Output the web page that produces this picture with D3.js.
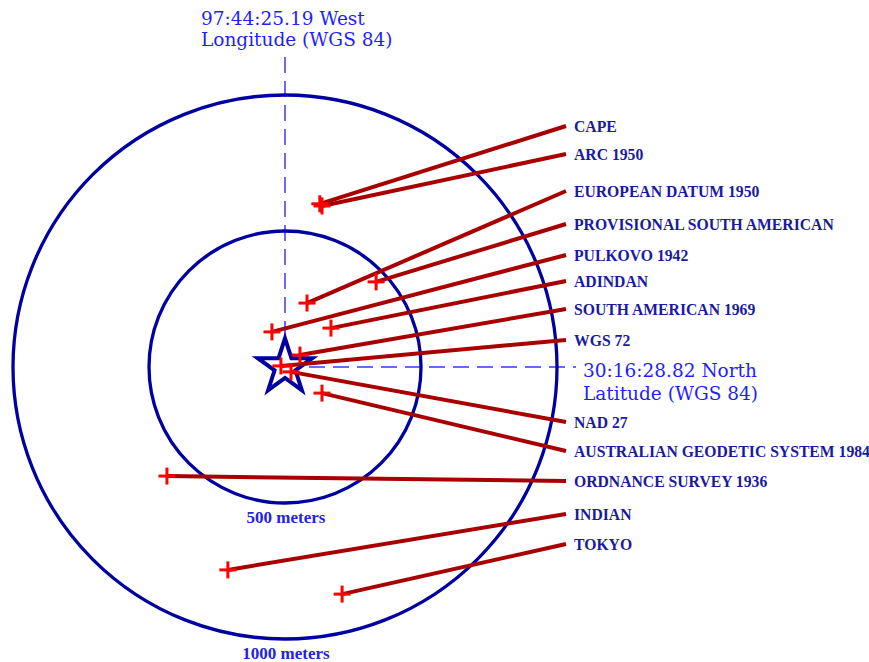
<!DOCTYPE html>
<html>
<head>
<meta charset="utf-8">
<script src="https://cdn.jsdelivr.net/npm/d3@7"></script>
<style>
  body { margin: 0; background: #fff; }
  svg { display: block; }
  .datum { font-family: "Liberation Serif", "Times New Roman", serif; font-weight: bold; font-size: 15.7px; fill: #1a1aa0; }
  .coord { font-family: "DejaVu Serif", serif; font-size: 18.5px; fill: #1e1eff; }
  .ring-label { font-family: "Liberation Serif", serif; font-weight: bold; font-size: 17px; fill: #2424e0; }
</style>
</head>
<body>
<svg id="chart" width="869" height="662"></svg>
<script>
// datum shifts relative to WGS 84, metres east / north
var datums = ["CAPE", "ARC 1950", "EUROPEAN DATUM 1950", "PROVISIONAL SOUTH AMERICAN",
  "PULKOVO 1942", "ADINDAN", "SOUTH AMERICAN 1969", "WGS 72", "NAD 27",
  "AUSTRALIAN GEODETIC SYSTEM 1984", "ORDNANCE SURVEY 1936", "INDIAN", "TOKYO"];
var eastM  = [128, 136, 81, 335, -48, 169, 55, -15, 22, 136, -434, -210, 210];
var northM = [600, 592, 235, 313, 129, 143, 44, 4, -18, -96, -401, -746, -835];

var ringsM = [500, 1000];
var ringLabels = ["500 meters", "1000 meters"];
var lonLabel = ["97:44:25.19 West", "Longitude (WGS 84)"];
var latLabel = ["30:16:28.82 North", "Latitude (WGS 84)"];

// label rows on the right (baselines, px)
var labelY = [132, 160, 197, 230, 261, 287, 315, 346, 428, 457, 487, 520, 550];

var svg = d3.select("#chart");
var cx = 285, cy = 367, R = 272;

var x = d3.scaleLinear().domain([-1000, 1000]).range([cx - R, cx + R]);
var y = d3.scaleLinear().domain([-1000, 1000]).range([cy + R, cy - R]);
var r = d3.scaleLinear().domain([0, 1000]).range([0, R]);

// reference crosshair (dashed)
svg.append("line")
  .attr("x1", x(0)).attr("x2", x(0))
  .attr("y1", 57).attr("y2", y(0))
  .attr("stroke", "#3838ff").attr("stroke-width", 1.5)
  .attr("stroke-dasharray", "16,8");
svg.append("line")
  .attr("x1", x(0)).attr("x2", 576)
  .attr("y1", y(0)).attr("y2", y(0))
  .attr("stroke", "#3838ff").attr("stroke-width", 1.5)
  .attr("stroke-dasharray", "16,8");

// range rings
svg.selectAll("circle.ring")
  .data(ringsM)
  .enter().append("circle")
  .attr("class", "ring")
  .attr("cx", x(0)).attr("cy", y(0))
  .attr("r", function(d) { return r(d); })
  .attr("fill", "none")
  .attr("stroke", "#0000a0")
  .attr("stroke-width", 3.3);

svg.selectAll("text.ring-label")
  .data(ringsM)
  .enter().append("text")
  .attr("class", "ring-label")
  .attr("x", x(0) + 1)
  .attr("y", function(d) { return y(0) + r(d) + 19.5; })
  .attr("text-anchor", "middle")
  .text(function(d, i) { return ringLabels[i]; });

// WGS 84 origin star
svg.append("path")
  .attr("d", d3.symbol(d3.symbolStar).size(925)())
  .attr("transform", "translate(" + x(0) + "," + y(0) + ")")
  .attr("fill", "#fff")
  .attr("stroke", "#0000a0")
  .attr("stroke-width", 4)
  .attr("stroke-linejoin", "miter");

// leader lines
var idx = d3.range(datums.length);

svg.selectAll("line.leader")
  .data(idx)
  .enter().append("line")
  .attr("class", "leader")
  .attr("x1", function(i) { return x(eastM[i]); })
  .attr("y1", function(i) { return y(northM[i]); })
  .attr("x2", 566)
  .attr("y2", function(i) { return labelY[i] - 6; })
  .attr("stroke", "#a80000")
  .attr("stroke-width", 4);

// crosses
var cross = svg.selectAll("g.cross")
  .data(idx)
  .enter().append("g")
  .attr("class", "cross")
  .attr("transform", function(i) { return "translate(" + x(eastM[i]) + "," + y(northM[i]) + ")"; });
cross.append("line").attr("x1", -8.5).attr("x2", 8.5).attr("y1", 0).attr("y2", 0);
cross.append("line").attr("x1", 0).attr("x2", 0).attr("y1", -8.5).attr("y2", 8.5);
cross.selectAll("line").attr("stroke", "#ff0000").attr("stroke-width", 3);

// datum labels
svg.selectAll("text.datum")
  .data(idx)
  .enter().append("text")
  .attr("class", "datum")
  .attr("x", 574)
  .attr("y", function(i) { return labelY[i]; })
  .text(function(i) { return datums[i]; });

// coordinate labels
svg.selectAll("text.lon")
  .data(lonLabel)
  .enter().append("text")
  .attr("class", "coord lon")
  .attr("x", 201)
  .attr("y", function(d, i) { return 25 + i * 21; })
  .text(function(d) { return d; });

svg.selectAll("text.lat")
  .data(latLabel)
  .enter().append("text")
  .attr("class", "coord lat")
  .attr("x", 583)
  .attr("y", function(d, i) { return 377 + i * 23; })
  .text(function(d) { return d; });
</script>
</body>
</html>
